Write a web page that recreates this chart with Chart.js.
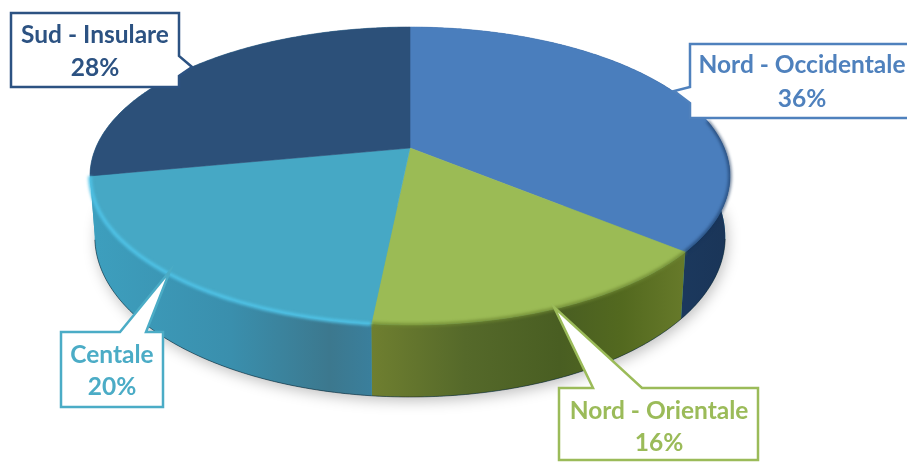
<!DOCTYPE html>
<html>
<head>
<meta charset="utf-8">
<style>
  html, body { margin: 0; padding: 0; background: #fff; }
  canvas { display: block; }
</style>
<script src="https://cdn.jsdelivr.net/npm/chart.js@4"></script>
</head>
<body>
<canvas id="chart" width="907" height="462"></canvas>
<script>
// =====================
// Data
// =====================
const categories = ['Nord - Occidentale', 'Nord - Orientale', 'Centale', 'Sud - Insulare'];
const shares = [36, 15.6, 20.4, 28]; // labels show them rounded
const faceColors = ['#4a7ebd', '#9bbb55', '#46a8c5', '#2c5079'];
const textColors = ['#4f81bd', '#9bbb59', '#4bacc6', '#2c5282'];

// wall shading of each slice, left to right: [position in the slice, colour]
const wallStops = [
  [[0, '#214b7e'], [0.5, '#1e4069'], [1, '#1a3558']],
  [[0, '#6f7f30'], [0.3, '#55692a'], [0.6, '#495e22'], [0.8, '#53691f'], [1, '#677a2a']],
  [[0, '#3d9fbe'], [0.5, '#3a8fad'], [0.85, '#3c788e'], [1, '#3a7f9c']],
  [[0, '#3d9fbe'], [1, '#3d9fbe']] // only a sliver of it shows, at the far left
];
const rimColors = ['rgba(20,50,90,0.6)', 'rgba(110,135,50,0.8)', '#50c4e8', null];

// callouts: outline of box + tail, then centre and baselines of the two text lines
const calloutShapes = [
  [[690, 44], [915, 44], [915, 118], [690, 118], [690, 103], [674, 91], [690, 87]],
  [[559, 388], [593, 388], [554, 307], [642, 388], [758, 388], [758, 460], [559, 460]],
  [[61, 332], [120, 332], [170, 271], [146, 332], [163, 332], [163, 407], [61, 407]],
  [[11, 13], [179, 13], [179, 56], [192, 67], [179, 76], [179, 87], [11, 87]]
];
const calloutText = [
  [802, 73, 107],
  [659, 419, 451],
  [112, 363, 395],
  [95, 43, 76]
];

// =====================
// Disc geometry (tilted, with perspective)
// =====================
const disc = { cx: 410, cy: 148, a: 314.3, b: 143.7, k: -0.188, depth: 58, depthFront: 14, inset: 0.985 };

const topPoint = (angle) => {
  const u = Math.cos(angle), v = Math.sin(angle);
  const w = 1 + disc.k * v;
  return { x: disc.cx + disc.a * u / w, y: disc.cy + disc.b * v / w };
};

const bottomPoint = (angle) => {
  const p = topPoint(angle);
  return {
    x: disc.cx + (p.x - disc.cx) * disc.inset,
    y: p.y + disc.depth + disc.depthFront * Math.sin(angle)
  };
};

const rimAngles = (start, end) => {
  const list = [];
  const n = Math.max(2, Math.ceil((end - start) / 0.01));
  for (let i = 0; i <= n; i++) list.push(start + (end - start) * i / n);
  return list;
};

const tracePoints = (ctx, points, move = true) => {
  points.forEach((p, i) => {
    if (i === 0 && move) ctx.moveTo(p.x, p.y);
    else ctx.lineTo(p.x, p.y);
  });
};

// =====================
// Draw the slices in 3D from the arc elements
// =====================
const disc3d = {
  id: 'disc3d',
  beforeDatasetsDraw(chart) {
    const ctx = chart.ctx;
    const arcs = chart.getDatasetMeta(0).data;

    // soft shadow under the disc
    ctx.save();
    ctx.shadowColor = 'rgba(0,0,0,0.25)';
    ctx.shadowBlur = 14;
    ctx.shadowOffsetY = 4;
    ctx.shadowOffsetX = 2;
    ctx.fillStyle = '#3d9fbe';
    ctx.beginPath();
    tracePoints(ctx, rimAngles(0, Math.PI).map(bottomPoint));
    ctx.closePath();
    ctx.fill();
    ctx.restore();

    // walls
    arcs.forEach((arc, i) => {
      const angles = rimAngles(arc.startAngle, arc.endAngle);
      const top = angles.map(topPoint);
      const bottom = angles.map(bottomPoint);
      const xs = top.concat(bottom).map(p => p.x);
      const x0 = Math.min(...xs), x1 = Math.max(...xs);
      const grad = ctx.createLinearGradient(x0, 0, x1, 0);
      wallStops[i].forEach(s => grad.addColorStop(s[0], s[1]));
      ctx.fillStyle = grad;
      ctx.beginPath();
      tracePoints(ctx, top);
      tracePoints(ctx, bottom.slice().reverse(), false);
      ctx.closePath();
      ctx.fill();
      // dark seam along the floor
      ctx.strokeStyle = 'rgba(15,30,40,0.55)';
      ctx.lineWidth = 1;
      ctx.beginPath();
      tracePoints(ctx, bottom.filter((p, j) => Math.sin(angles[j]) > 0.2));
      ctx.stroke();
    });

    // top faces
    arcs.forEach((arc) => {
      const top = rimAngles(arc.startAngle, arc.endAngle).map(topPoint);
      ctx.fillStyle = arc.options.backgroundColor;
      ctx.strokeStyle = arc.options.backgroundColor;
      ctx.lineWidth = 0.6;
      ctx.beginPath();
      ctx.moveTo(disc.cx, disc.cy);
      tracePoints(ctx, top, false);
      ctx.closePath();
      ctx.fill();
      ctx.stroke();
    });

    // soft bevel along the front of the rim
    arcs.forEach((arc, i) => {
      if (!rimColors[i]) return;
      const front = rimAngles(arc.startAngle, arc.endAngle).filter(a => Math.sin(a) > -0.2);
      ctx.save();
      ctx.filter = 'blur(1.6px)';
      ctx.strokeStyle = rimColors[i];
      ctx.lineWidth = 3.5;
      ctx.beginPath();
      tracePoints(ctx, front.map(topPoint));
      ctx.stroke();
      ctx.restore();
    });

    return false; // the flat arcs are replaced by the drawing above
  },
  afterDraw(chart) {
    const ctx = chart.ctx;
    categories.forEach((label, i) => {
      const shape = calloutShapes[i];
      ctx.beginPath();
      shape.forEach((p, j) => (j === 0 ? ctx.moveTo(p[0], p[1]) : ctx.lineTo(p[0], p[1])));
      ctx.closePath();
      ctx.fillStyle = '#fff';
      ctx.fill();
      ctx.strokeStyle = textColors[i];
      ctx.lineWidth = 2.5;
      ctx.lineJoin = 'miter';
      ctx.stroke();

      const [x, y1, y2] = calloutText[i];
      ctx.fillStyle = textColors[i];
      ctx.font = 'bold 24.5px Lato, "Open Sans", sans-serif';
      ctx.textAlign = 'center';
      ctx.textBaseline = 'alphabetic';
      ctx.fillText(label, x, y1);
      ctx.fillText(Math.round(shares[i]) + '%', x, y2);
    });
  }
};

// =====================
// Render Pie Chart
// =====================
new Chart(document.getElementById('chart').getContext('2d'), {
  type: 'pie',
  data: {
    labels: categories,
    datasets: [{ data: shares, backgroundColor: faceColors, borderWidth: 0 }]
  },
  options: {
    responsive: false,
    animation: false,
    plugins: {
      legend: { display: false },
      tooltip: { enabled: false }
    }
  },
  plugins: [disc3d]
});
</script>
</body>
</html>
